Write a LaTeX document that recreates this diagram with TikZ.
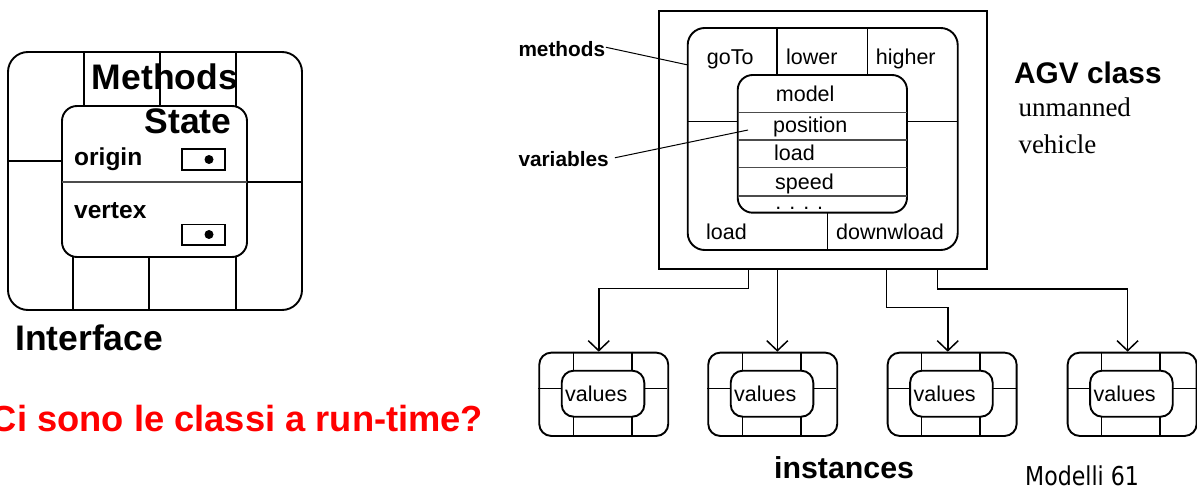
\documentclass[tikz,border=0pt]{standalone}
\usepackage{fontspec}
\setmainfont{Liberation Sans}
\newfontfamily\serifface{Liberation Serif}
\newfontfamily\footface[FakeStretch=0.85]{DejaVu Sans}
\usetikzlibrary{arrows.meta}

\tikzset{
  frame/.style={draw=black, line width=1.9pt},
  divider/.style={draw=black, line width=1.5pt},
  thindiv/.style={draw=black!70, line width=1.1pt},
  leader/.style={draw=black, line width=1pt},
  conn/.style={draw=black, line width=1.5pt, -{Straight Barb[length=10pt,width=21pt]}},
  txt/.style={inner sep=0pt, anchor=base west},
  hugebold/.style={txt, font=\fontsize{35.5}{40}\selectfont\bfseries},
  midbold/.style={txt, font=\fontsize{24.5}{28}\selectfont\bfseries},
  smallbold/.style={txt, font=\fontsize{20.8}{24}\selectfont\bfseries},
  plain/.style={txt, font=\fontsize{21.5}{25}\selectfont},
  instbox/.pic={
    \node[frame, rounded corners=12pt, minimum width=129pt, minimum height=83.3pt,
          anchor=north west, inner sep=0pt] (-box) at (0,0) {};
    \draw[divider] (35,0) -- (35,19) (93.5,0) -- (93.5,19)
                   (35,65) -- (35,83.3) (93.5,65) -- (93.5,83.3)
                   (0,36.6) -- (23.4,36.6) (106,36.6) -- (129,36.6);
    \draw[frame, rounded corners=12pt] (23.4,19) rectangle (106,65);
    \node[plain] (-val) at (26.7,50) {values};
  }
}

\begin{document}
\begin{tikzpicture}[x=1pt, y=-1pt]
\useasboundingbox (0,0) rectangle (1197,489);

% ---------- object with interface, methods and state ----------
\draw[frame, rounded corners=20pt] (8,52) rectangle (302,310);
\draw[divider] (84,52) -- (84,106) (160,52) -- (160,106) (236,52) -- (236,106);
\draw[divider] (8,161) -- (62,161) (247,182) -- (302,182);
\draw[divider] (73,257) -- (73,310) (149,257) -- (149,310) (236,257) -- (236,310);
\draw[frame, fill=white, rounded corners=15pt] (62,106) rectangle (247,257);
\draw[thindiv] (62,182) -- (247,182);
\draw[divider] (182,149) rectangle (225,170);
\fill (209,159.5) circle (4.5);
\draw[divider] (182,224.5) rectangle (225,245);
\fill (209,234.5) circle (4.5);

\node[hugebold] (methodsTitle) at (91.7,90) {Methods};
\node[hugebold] (stateTitle) at (144.3,134) {State};
\node[midbold] (originLbl) at (74,166) {origin};
\node[midbold] (vertexLbl) at (74,218.3) {vertex};
\node[hugebold] (ifaceLbl) at (15,350) {Interface};
\node[txt, font=\fontsize{36.3}{40}\selectfont\bfseries, text=red, anchor=base east]
  (question) at (483.3,431.7) {Ci sono le classi a run-time?};

% ---------- AGV class ----------
\node[frame, anchor=north west, minimum width=328pt, minimum height=258pt, inner sep=0pt]
  (agv) at (657.7,10) {};
\draw[frame, rounded corners=17pt] (687.7,28) rectangle (957.7,250);
\draw[divider] (777,28) -- (777,75) (867.7,28) -- (867.7,75);
\draw[divider] (687.7,121.7) -- (737.7,121.7) (907,121.7) -- (957.7,121.7);
\draw[divider] (827.3,212.7) -- (827.3,250);
\draw[frame, rounded corners=15pt] (737.7,75) rectangle (907,212.7);
\draw[thindiv] (737.7,112.3) -- (907,112.3) (737.7,140) -- (907,140)
               (737.7,167.7) -- (907,167.7) (737.7,196) -- (907,196);

\node[plain] (goTo) at (706.7,64.3) {goTo};
\node[plain] (lower) at (786,64.3) {lower};
\node[plain] (higher) at (875.7,64.3) {higher};
\node[plain] (model) at (775.7,101.7) {model};
\node[plain] (position) at (773,132.7) {position};
\node[plain] (loadVar) at (774,161) {load};
\node[plain] (speed) at (775,189.3) {speed};
\node[plain] (more) at (775.2,209.5) {. . . .};
\node[plain] (loadOp) at (706,240) {load};
\node[plain] (unloadOp) at (836,240) {downwload};

\node[smallbold] (methodsLbl) at (518.3,56.7) {methods};
\node[smallbold] (varsLbl) at (518.3,166.7) {variables};
\coordinate (methodsTip) at (688,65);
\coordinate (varsTip) at (748,130);
\draw[leader] ([xshift=0.5pt,yshift=2pt]methodsLbl.east) -- (methodsTip);
\draw[leader] ([xshift=6pt,yshift=1.5pt]varsLbl.east) -- (varsTip);

\node[txt, font=\fontsize{29.8}{34}\selectfont\bfseries] (agvTitle) at (1014,83.3) {AGV class};
\node[txt, font=\serifface\fontsize{27}{31}\selectfont] (agvNote1) at (1018.3,116.7) {unmanned};
\node[txt, font=\serifface\fontsize{27}{31}\selectfont] (agvNote2) at (1018.3,153.3) {vehicle};

% ---------- instances ----------
\pic (inst1) at (538.3,351.7) {instbox};
\pic (inst2) at (707.3,351.7) {instbox};
\pic (inst3) at (886.7,351.7) {instbox};
\pic (inst4) at (1066.7,351.7) {instbox};

\draw[conn] ([xshift=90.6pt]agv.south west) -- ++(0,18.4) -| ([xshift=-5pt]inst1-box.north);
\draw[conn] ([xshift=119.6pt]agv.south west) coordinate (s2) -- (s2 |- inst2-box.north);
\draw[conn] ([xshift=229pt]agv.south west) -- ++(0,37.4) -| ([xshift=-4.4pt]inst3-box.north);
\draw[conn] ([xshift=279.6pt]agv.south west) -- ++(0,19) -| ([xshift=-4.6pt]inst4-box.north);

\node[txt, font=\fontsize{30.3}{34}\selectfont\bfseries] (instLbl) at (774,478.3) {instances};
\node[txt, font=\footface\fontsize{26}{30}\selectfont] (pageLbl) at (1025,485) {Modelli 61};
\end{tikzpicture}
\end{document}
